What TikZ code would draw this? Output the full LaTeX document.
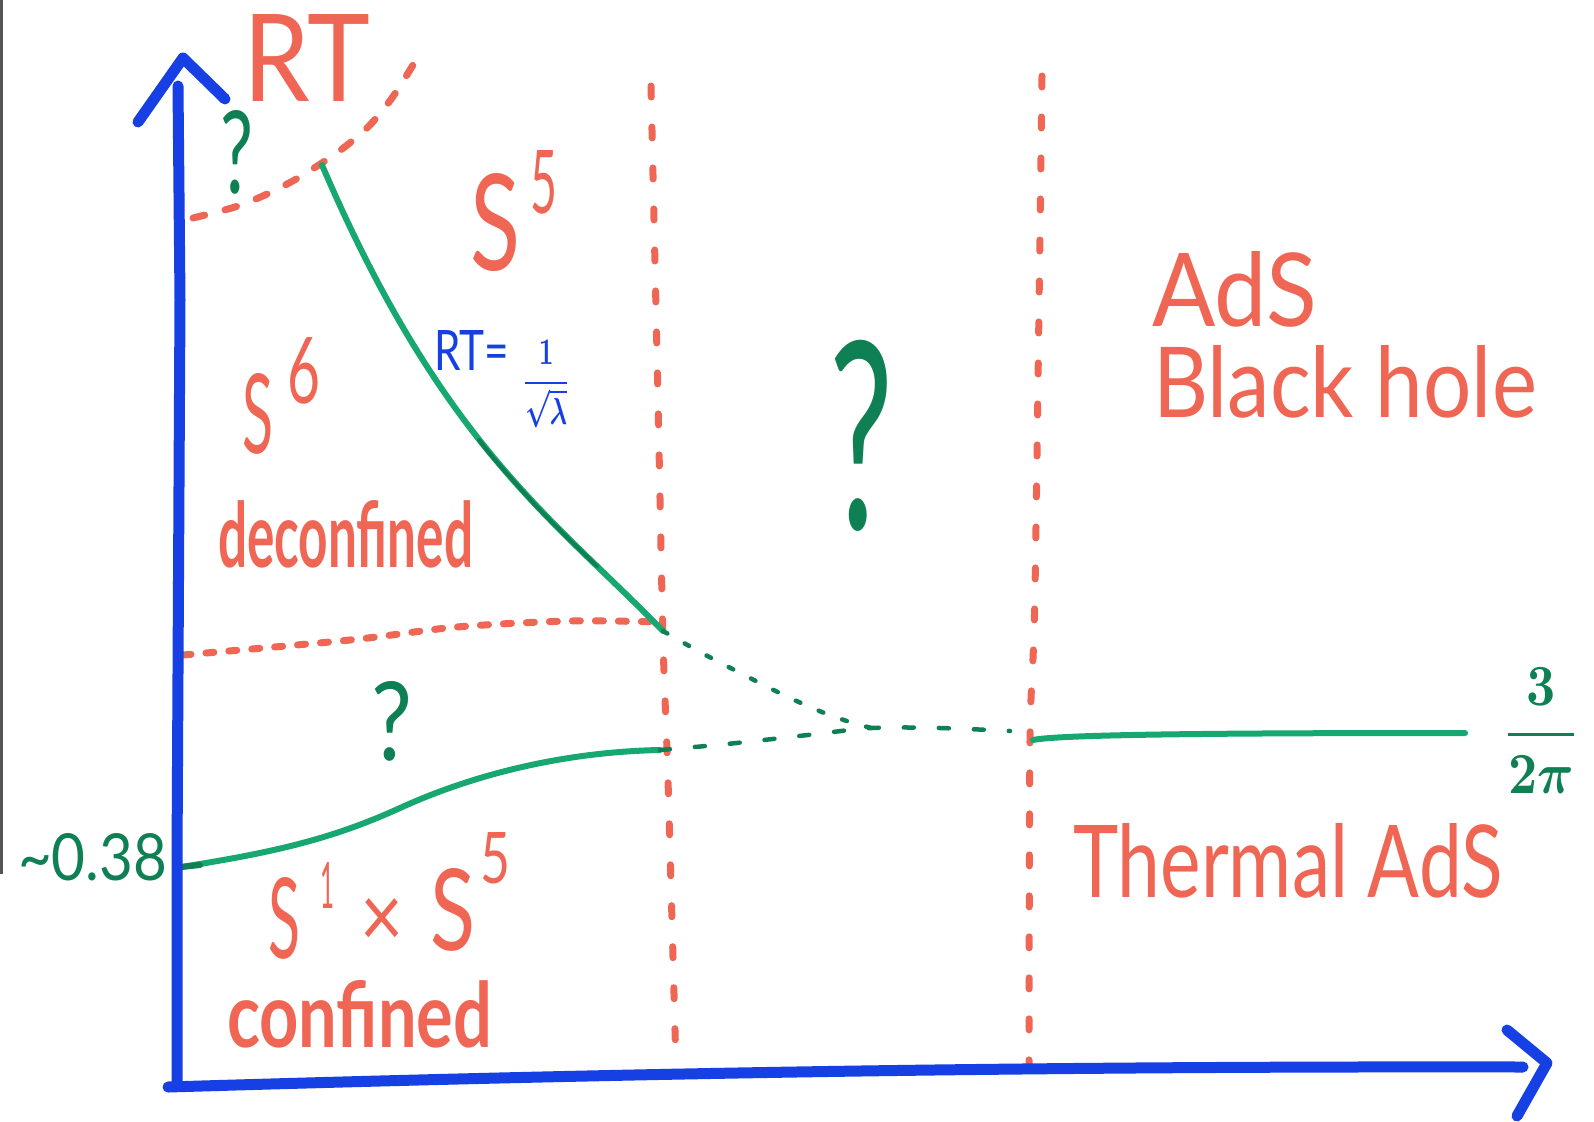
\documentclass[tikz,border=0pt]{standalone}
\usepackage{fontspec}
\usepackage{graphicx}
\newfontfamily\hand{Lato}
\definecolor{myblue}{RGB}{22,64,228}
\definecolor{myorange}{RGB}{240,102,84}
\definecolor{mygreen}{RGB}{22,168,112}
\definecolor{mydgreen}{RGB}{14,128,84}
\definecolor{edgegray}{RGB}{85,85,85}
\newcommand\fitlab[3]{\resizebox{#1pt}{#2pt}{\hand #3}}
\newcommand\fitlabb[3]{\resizebox{#1pt}{#2pt}{\hand\bfseries #3}}
\tikzset{
  axis/.style={draw=myblue, line width=11pt, line cap=round, line join=round},
  odash/.style={draw=myorange, line width=7pt, line cap=round, dash pattern=on 11pt off 30pt},
  odashh/.style={draw=myorange, line width=7pt, line cap=round, dash pattern=on 8pt off 15pt},
  odasht/.style={draw=myorange, line width=7pt, line cap=round, dash pattern=on 12pt off 21pt},
  gsolid/.style={draw=mygreen, line width=6pt, line cap=round},
  gdash/.style={draw=mydgreen, line width=4.5pt, line cap=round, dash pattern=on 10pt off 25pt},
  gdot/.style={draw=mydgreen, line width=4.5pt, line cap=round, dash pattern=on 5pt off 20pt},
  lab/.style={inner sep=0pt, outer sep=0pt, anchor=base west},
}
\begin{document}
\begin{tikzpicture}[x=1pt,y=-1pt]
\useasboundingbox (0,0) rectangle (1594,1121);
\fill[white] (0,0) rectangle (1594,1121);
\fill[edgegray] (0,0) rectangle (3,874);

% orange dashed boundaries
\draw[odasht] plot[smooth] coordinates {(193,218) (235,207) (265,195) (298,178) (338,152) (368,127) (392,98) (413,65)};
\draw[odash] plot[smooth] coordinates {(651,86) (658,400) (663,640) (668,780) (676,1067)};
\draw[odash] plot[smooth] coordinates {(1042,76) (1035,590) (1030,740) (1029,1067)};
\draw[odashh] plot[smooth] coordinates {(183,655) (350,640) (457,627) (569,621) (660,622)};

% green curves
\coordinate (ctop) at (322,165);
\coordinate (cmeet) at (663,631);
\coordinate (c38) at (181,867);
\coordinate (cmid) at (400,808);
\coordinate (clow) at (660,750);
\coordinate (cjoin) at (872,728);
\coordinate (cright) at (1010,731);
\draw[gsolid] (ctop) .. controls (442,445) and (553,518) .. (cmeet);
\draw[draw=mydgreen, line width=4pt, line cap=round] plot[smooth] coordinates {(479,440) (496,461) (538,508) (580,550) (597,566)};
\draw[gsolid] (c38) .. controls (270,853) and (330,840) .. (cmid)
  .. controls (470,776) and (560,752) .. (clow);
\draw[draw=mydgreen, line width=6pt, line cap=round] (c38) -- (200,865);
\draw[gdot] plot[smooth] coordinates {(cmeet) (700,652) (748,677) (790,698) (832,716) (cjoin) (888,726)};
\draw[gdash] plot[smooth] coordinates {(clow) (727,744) (808,735) (cjoin) (940,728) (cright)};
\draw[gsolid] (1033,740) .. controls (1060,734) and (1250,733) .. (1465,733);

% axes
\coordinate (o) at (177,1086);
\coordinate (ytop) at (178,86);
\coordinate (xend) at (1523,1067);
\draw[axis] (o) -- (177,860) -- (180,300) -- (ytop);
\draw[axis] (168,1087) .. controls (600,1074) and (1000,1066) .. (xend);
\draw[axis] (138,122) -- (183,58) -- (225,99);
\draw[axis] (1507,1030) -- (1547,1063) -- (1517,1116);

% labels
\node[lab,text=myorange] (rt) at (243,102) {\fitlab{127}{87}{RT}};
\node[lab,text=mydgreen] (q1) at (220,193) {\fitlab{33}{83}{?}};
\node[lab,text=myorange] (s5) at (470,270) {\fitlab{50}{97}{S}};
\node[lab,text=myorange] (s5e) at (530,213) {\fitlab{27}{63}{5}};
\node[lab,text=myorange] (s6) at (242,453) {\fitlab{31}{80}{S}};
\node[lab,text=myorange] (s6e) at (287,403) {\fitlab{33}{66}{6}};
\node[lab,text=myorange] (dec) at (218,567) {\fitlabb{255}{67}{deconfined}};
\node[lab,text=mydgreen] (q2) at (371,760) {\fitlab{41}{79}{?}};
\node[lab,text=mydgreen] (q3) at (829,529) {\fitlab{64}{189}{?}};
\node[lab,text=myorange] (sa) at (268,958) {\fitlab{32}{81}{S}};
\node[lab,text=myorange] (sae) at (320,908) {\fitlab{14}{46}{1}};
\node[lab,text=myorange] (times) at (360,947) {\fitlab{43}{49}{×}};
\node[lab,text=myorange] (sb) at (430,950) {\fitlab{45}{82}{S}};
\node[lab,text=myorange] (sbe) at (480,883) {\fitlab{30}{51}{5}};
\node[lab,text=myorange] (conf) at (227,1047) {\fitlabb{265}{67}{confined}};
\node[lab,text=myorange] (ads) at (1152,326) {\fitlab{165}{75}{AdS}};
\node[lab,text=myorange] (bh) at (1153,417) {\fitlab{384}{72}{Black hole}};
\node[lab,text=myorange] (tads) at (1073,897) {\fitlab{430}{74}{Thermal AdS}};
\node[lab,text=myblue] (rteq) at (434,370) {\fitlab{75}{40}{RT=}};
\node[inner sep=0pt,text=myblue,anchor=north west] (frac) at (522,340) {\resizebox*{48pt}{88pt}{\boldmath$\displaystyle\frac{1}{\sqrt{\lambda}}$}};
\node[lab,text=mydgreen] (val) at (18,880) {\fitlab{149}{47}{\char"7E 0.38}};
\node[inner sep=0pt,text=mydgreen,anchor=north west] (tpi) at (1502,668) {\resizebox*{78pt}{125pt}{\boldmath$\displaystyle\frac{3}{2\pi}$}};
\end{tikzpicture}
\end{document}
